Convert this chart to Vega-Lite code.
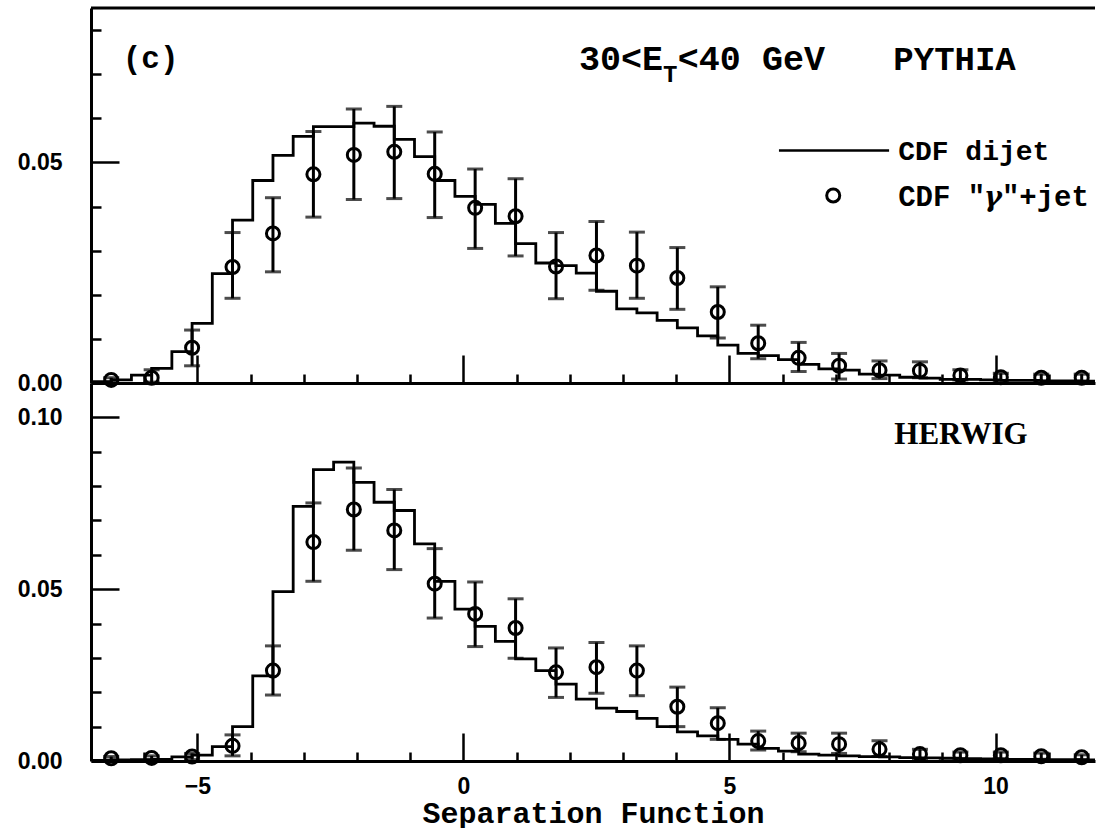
{
  "$schema": "https://vega.github.io/schema/vega-lite/v6.json",
  "padding": {"left": 17, "top": 6, "right": 0, "bottom": 0},
  "spacing": 0,
  "bounds": "flush",
  "background": "white",
  "datasets": {
    "note": [{}],
    "histPythia": [
      {"edge": -7.00, "v": 0.0003}, {"edge": -6.62, "v": 0.0007}, {"edge": -6.24, "v": 0.0018}, {"edge": -5.86, "v": 0.0033},
      {"edge": -5.48, "v": 0.0071}, {"edge": -5.10, "v": 0.0135}, {"edge": -4.72, "v": 0.0248}, {"edge": -4.34, "v": 0.0369},
      {"edge": -3.96, "v": 0.0459}, {"edge": -3.58, "v": 0.0516}, {"edge": -3.20, "v": 0.0559}, {"edge": -2.82, "v": 0.0581},
      {"edge": -2.44, "v": 0.0581}, {"edge": -2.06, "v": 0.0589}, {"edge": -1.68, "v": 0.0582}, {"edge": -1.30, "v": 0.0552},
      {"edge": -0.92, "v": 0.0513}, {"edge": -0.54, "v": 0.0459}, {"edge": -0.16, "v": 0.0423}, {"edge": 0.22, "v": 0.0405},
      {"edge": 0.60, "v": 0.0362}, {"edge": 0.98, "v": 0.0316}, {"edge": 1.36, "v": 0.0272}, {"edge": 1.74, "v": 0.0266},
      {"edge": 2.12, "v": 0.0249}, {"edge": 2.50, "v": 0.0208}, {"edge": 2.88, "v": 0.0168}, {"edge": 3.26, "v": 0.0159},
      {"edge": 3.64, "v": 0.0142}, {"edge": 4.02, "v": 0.0125}, {"edge": 4.40, "v": 0.0107}, {"edge": 4.78, "v": 0.0086},
      {"edge": 5.16, "v": 0.0067}, {"edge": 5.54, "v": 0.0062}, {"edge": 5.92, "v": 0.0053}, {"edge": 6.30, "v": 0.0042},
      {"edge": 6.68, "v": 0.0032}, {"edge": 7.06, "v": 0.0029}, {"edge": 7.44, "v": 0.0020}, {"edge": 7.82, "v": 0.0018},
      {"edge": 8.20, "v": 0.0013}, {"edge": 8.58, "v": 0.0011}, {"edge": 8.96, "v": 0.0008}, {"edge": 9.34, "v": 0.0008},
      {"edge": 9.72, "v": 0.0007}, {"edge": 10.10, "v": 0.0006}, {"edge": 10.48, "v": 0.0006}, {"edge": 10.86, "v": 0.0005},
      {"edge": 11.24, "v": 0.0005}, {"edge": 11.62, "v": 0.0004}, {"edge": 12.00, "v": 0.0004}
    ],
    "histHerwig": [
      {"edge": -7.00, "v": 0.0002}, {"edge": -6.62, "v": 0.0003}, {"edge": -6.24, "v": 0.0004}, {"edge": -5.86, "v": 0.0005},
      {"edge": -5.48, "v": 0.0012}, {"edge": -5.10, "v": 0.0017}, {"edge": -4.72, "v": 0.0042}, {"edge": -4.34, "v": 0.0100},
      {"edge": -3.96, "v": 0.0248}, {"edge": -3.58, "v": 0.0493}, {"edge": -3.20, "v": 0.0741}, {"edge": -2.82, "v": 0.0848},
      {"edge": -2.44, "v": 0.0870}, {"edge": -2.06, "v": 0.0811}, {"edge": -1.68, "v": 0.0753}, {"edge": -1.30, "v": 0.0729},
      {"edge": -0.92, "v": 0.0632}, {"edge": -0.54, "v": 0.0523}, {"edge": -0.16, "v": 0.0442}, {"edge": 0.22, "v": 0.0392},
      {"edge": 0.60, "v": 0.0348}, {"edge": 0.98, "v": 0.0297}, {"edge": 1.36, "v": 0.0263}, {"edge": 1.74, "v": 0.0224},
      {"edge": 2.12, "v": 0.0180}, {"edge": 2.50, "v": 0.0154}, {"edge": 2.88, "v": 0.0144}, {"edge": 3.26, "v": 0.0124},
      {"edge": 3.64, "v": 0.0100}, {"edge": 4.02, "v": 0.0085}, {"edge": 4.40, "v": 0.0073}, {"edge": 4.78, "v": 0.0063},
      {"edge": 5.16, "v": 0.0049}, {"edge": 5.54, "v": 0.0037}, {"edge": 5.92, "v": 0.0029}, {"edge": 6.30, "v": 0.0020},
      {"edge": 6.68, "v": 0.0017}, {"edge": 7.06, "v": 0.0015}, {"edge": 7.44, "v": 0.0013}, {"edge": 7.82, "v": 0.0012},
      {"edge": 8.20, "v": 0.0010}, {"edge": 8.58, "v": 0.0009}, {"edge": 8.96, "v": 0.0008}, {"edge": 9.34, "v": 0.0007},
      {"edge": 9.72, "v": 0.0006}, {"edge": 10.10, "v": 0.0005}, {"edge": 10.48, "v": 0.0005}, {"edge": 10.86, "v": 0.0004},
      {"edge": 11.24, "v": 0.0004}, {"edge": 11.62, "v": 0.0003}, {"edge": 12.00, "v": 0.0003}
    ],
    "gammaPythia": [
      {"sep": -6.62, "v": 0.0007, "lo": 0.0002, "hi": 0.0012},
      {"sep": -5.86, "v": 0.0012, "lo": 0.0002, "hi": 0.0030},
      {"sep": -5.10, "v": 0.0080, "lo": 0.0039, "hi": 0.0120},
      {"sep": -4.34, "v": 0.0263, "lo": 0.0192, "hi": 0.0341},
      {"sep": -3.58, "v": 0.0339, "lo": 0.0252, "hi": 0.0420},
      {"sep": -2.82, "v": 0.0473, "lo": 0.0376, "hi": 0.0570},
      {"sep": -2.06, "v": 0.0517, "lo": 0.0416, "hi": 0.0621},
      {"sep": -1.30, "v": 0.0524, "lo": 0.0418, "hi": 0.0627},
      {"sep": -0.54, "v": 0.0474, "lo": 0.0375, "hi": 0.0569},
      {"sep": 0.22, "v": 0.0397, "lo": 0.0305, "hi": 0.0485},
      {"sep": 0.98, "v": 0.0378, "lo": 0.0288, "hi": 0.0463},
      {"sep": 1.74, "v": 0.0264, "lo": 0.0191, "hi": 0.0341},
      {"sep": 2.50, "v": 0.0289, "lo": 0.0210, "hi": 0.0366},
      {"sep": 3.26, "v": 0.0266, "lo": 0.0192, "hi": 0.0342},
      {"sep": 4.02, "v": 0.0238, "lo": 0.0167, "hi": 0.0307},
      {"sep": 4.78, "v": 0.0161, "lo": 0.0102, "hi": 0.0218},
      {"sep": 5.54, "v": 0.0090, "lo": 0.0055, "hi": 0.0131},
      {"sep": 6.30, "v": 0.0057, "lo": 0.0026, "hi": 0.0092},
      {"sep": 7.06, "v": 0.0039, "lo": 0.0009, "hi": 0.0067},
      {"sep": 7.82, "v": 0.0029, "lo": 0.0010, "hi": 0.0050},
      {"sep": 8.58, "v": 0.0028, "lo": 0.0012, "hi": 0.0048},
      {"sep": 9.34, "v": 0.0017, "lo": 0.0007, "hi": 0.0030},
      {"sep": 10.10, "v": 0.0013, "lo": 0.0005, "hi": 0.0022},
      {"sep": 10.86, "v": 0.0012, "lo": 0.0004, "hi": 0.0020},
      {"sep": 11.62, "v": 0.0012, "lo": 0.0004, "hi": 0.0020}
    ],
    "gammaHerwig": [
      {"sep": -6.62, "v": 0.0008, "lo": 0.0003, "hi": 0.0013},
      {"sep": -5.86, "v": 0.0009, "lo": 0.0003, "hi": 0.0015},
      {"sep": -5.10, "v": 0.0013, "lo": 0.0004, "hi": 0.0022},
      {"sep": -4.34, "v": 0.0044, "lo": 0.0015, "hi": 0.0076},
      {"sep": -3.58, "v": 0.0263, "lo": 0.0192, "hi": 0.0335},
      {"sep": -2.82, "v": 0.0637, "lo": 0.0523, "hi": 0.0751},
      {"sep": -2.06, "v": 0.0732, "lo": 0.0613, "hi": 0.0853},
      {"sep": -1.30, "v": 0.0671, "lo": 0.0557, "hi": 0.0790},
      {"sep": -0.54, "v": 0.0516, "lo": 0.0416, "hi": 0.0618},
      {"sep": 0.22, "v": 0.0428, "lo": 0.0333, "hi": 0.0521},
      {"sep": 0.98, "v": 0.0387, "lo": 0.0299, "hi": 0.0472},
      {"sep": 1.74, "v": 0.0258, "lo": 0.0185, "hi": 0.0329},
      {"sep": 2.50, "v": 0.0273, "lo": 0.0197, "hi": 0.0345},
      {"sep": 3.26, "v": 0.0263, "lo": 0.0190, "hi": 0.0335},
      {"sep": 4.02, "v": 0.0158, "lo": 0.0100, "hi": 0.0215},
      {"sep": 4.78, "v": 0.0110, "lo": 0.0063, "hi": 0.0155},
      {"sep": 5.54, "v": 0.0058, "lo": 0.0032, "hi": 0.0087},
      {"sep": 6.30, "v": 0.0052, "lo": 0.0027, "hi": 0.0081},
      {"sep": 7.06, "v": 0.0049, "lo": 0.0022, "hi": 0.0081},
      {"sep": 7.82, "v": 0.0034, "lo": 0.0013, "hi": 0.0059},
      {"sep": 8.58, "v": 0.0020, "lo": 0.0006, "hi": 0.0034},
      {"sep": 9.34, "v": 0.0017, "lo": 0.0006, "hi": 0.0026},
      {"sep": 10.10, "v": 0.0017, "lo": 0.0007, "hi": 0.0026},
      {"sep": 10.86, "v": 0.0014, "lo": 0.0005, "hi": 0.0023},
      {"sep": 11.62, "v": 0.0011, "lo": 0.0004, "hi": 0.0018}
    ]
  },
  "vconcat": [
    {
      "width": 1004,
      "height": 375,
      "resolve": {"axis": {"x": "independent", "y": "independent"}},
      "layer": [
        {
          "data": {"name": "histPythia"},
          "mark": {"type": "line", "interpolate": "step-after", "color": "black", "strokeWidth": 2.8, "clip": true},
          "encoding": {
            "x": {"field": "edge", "type": "quantitative",
                  "scale": {"domain": [-7, 11.87], "nice": false, "zero": false},
                  "axis": {"orient": "bottom", "values": [-5, 0, 5, 10], "labels": false, "tickSize": -28, "tickWidth": 2.5, "domainWidth": 3, "title": null}},
            "y": {"field": "v", "type": "quantitative",
                  "scale": {"domain": [0, 0.085], "nice": false},
                  "axis": {"orient": "left", "values": [0, 0.05], "format": ".2f", "tickSize": -28, "tickWidth": 2.5, "domainWidth": 3, "labelPadding": 57, "title": null}}
          }
        },
        {
          "data": {"name": "gammaPythia"},
          "mark": {"type": "rule", "color": "black", "strokeWidth": 3},
          "encoding": {
            "x": {"field": "sep", "type": "quantitative",
                  "axis": {"orient": "bottom", "values": [-6, -4, -3, -2, -1, 1, 2, 3, 4, 6, 7, 8, 9, 11], "labels": false, "domain": false, "tickSize": -9, "tickWidth": 2.5, "title": null}},
            "y": {"field": "lo", "type": "quantitative",
                  "axis": {"orient": "left", "values": [0.01, 0.02, 0.03, 0.04, 0.06, 0.07, 0.08], "labels": false, "domain": false, "tickSize": -10, "tickWidth": 2.5, "title": null}},
            "y2": {"field": "hi"}
          }
        },
        {
          "data": {"name": "gammaPythia"},
          "mark": {"type": "tick", "orient": "horizontal", "color": "black", "size": 16, "thickness": 3},
          "encoding": {
            "x": {"field": "sep", "type": "quantitative", "axis": null},
            "y": {"field": "lo", "type": "quantitative", "axis": null}
          }
        },
        {
          "data": {"name": "gammaPythia"},
          "mark": {"type": "tick", "orient": "horizontal", "color": "black", "size": 16, "thickness": 3},
          "encoding": {
            "x": {"field": "sep", "type": "quantitative", "axis": null},
            "y": {"field": "hi", "type": "quantitative", "axis": null}
          }
        },
        {
          "data": {"name": "gammaPythia"},
          "mark": {"type": "point", "shape": "circle", "filled": false, "color": "black", "opacity": 1, "size": 170, "strokeWidth": 3},
          "encoding": {
            "x": {"field": "sep", "type": "quantitative", "axis": null},
            "y": {"field": "v", "type": "quantitative", "axis": null}
          }
        },
        {
          "data": {"name": "note"},
          "mark": {"type": "rule", "color": "black", "strokeWidth": 3},
          "encoding": {"y": {"datum": 0.085, "type": "quantitative", "axis": null}}
        },
        {
          "data": {"name": "note"},
          "mark": {"type": "text", "text": "(c)", "font": "Liberation Mono", "fontWeight": "bold", "fontSize": 31, "align": "center", "baseline": "middle", "color": "black"},
          "encoding": {"x": {"datum": -5.88, "type": "quantitative", "axis": null}, "y": {"datum": 0.0735, "type": "quantitative", "axis": null}}
        },
        {
          "data": {"name": "note"},
          "mark": {"type": "text", "text": "30<E", "font": "Liberation Mono", "fontWeight": "bold", "fontSize": 35, "align": "right", "baseline": "alphabetic", "color": "black"},
          "encoding": {"x": {"datum": 3.75, "type": "quantitative", "axis": null}, "y": {"datum": 0.071, "type": "quantitative", "axis": null}}
        },
        {
          "data": {"name": "note"},
          "mark": {"type": "text", "text": "T", "font": "Liberation Mono", "fontWeight": "bold", "fontSize": 24, "align": "left", "baseline": "alphabetic", "color": "black"},
          "encoding": {"x": {"datum": 3.75, "type": "quantitative", "axis": null}, "y": {"datum": 0.0683, "type": "quantitative", "axis": null}}
        },
        {
          "data": {"name": "note"},
          "mark": {"type": "text", "text": "<40 GeV", "font": "Liberation Mono", "fontWeight": "bold", "fontSize": 35, "align": "left", "baseline": "alphabetic", "color": "black"},
          "encoding": {"x": {"datum": 4.03, "type": "quantitative", "axis": null}, "y": {"datum": 0.071, "type": "quantitative", "axis": null}}
        },
        {
          "data": {"name": "note"},
          "mark": {"type": "text", "text": "PYTHIA", "font": "Liberation Mono", "fontWeight": "bold", "fontSize": 34, "align": "center", "baseline": "alphabetic", "color": "black"},
          "encoding": {"x": {"datum": 9.23, "type": "quantitative", "axis": null}, "y": {"datum": 0.071, "type": "quantitative", "axis": null}}
        },
        {
          "data": {"name": "note"},
          "mark": {"type": "rule", "color": "black", "strokeWidth": 2.5},
          "encoding": {
            "x": {"datum": 5.93, "type": "quantitative", "axis": null},
            "x2": {"datum": 8.0},
            "y": {"datum": 0.0527, "type": "quantitative", "axis": null}
          }
        },
        {
          "data": {"name": "note"},
          "mark": {"type": "text", "text": "CDF dijet", "font": "Liberation Mono", "fontWeight": "bold", "fontSize": 28, "align": "left", "baseline": "middle", "color": "black"},
          "encoding": {"x": {"datum": 8.17, "type": "quantitative", "axis": null}, "y": {"datum": 0.0523, "type": "quantitative", "axis": null}}
        },
        {
          "data": {"name": "note"},
          "mark": {"type": "point", "shape": "circle", "filled": false, "color": "black", "opacity": 1, "size": 170, "strokeWidth": 3},
          "encoding": {"x": {"datum": 6.95, "type": "quantitative", "axis": null}, "y": {"datum": 0.0425, "type": "quantitative", "axis": null}}
        },
        {
          "data": {"name": "note"},
          "mark": {"type": "text", "text": "CDF \"", "font": "Liberation Mono", "fontWeight": "bold", "fontSize": 29, "align": "left", "baseline": "middle", "color": "black"},
          "encoding": {"x": {"datum": 8.17, "type": "quantitative", "axis": null}, "y": {"datum": 0.0421, "type": "quantitative", "axis": null}}
        },
        {
          "data": {"name": "note"},
          "mark": {"type": "text", "text": "γ", "font": "DejaVu Serif", "fontStyle": "italic", "fontWeight": "bold", "fontSize": 27, "align": "center", "baseline": "middle", "color": "black"},
          "encoding": {"x": {"datum": 9.95, "type": "quantitative", "axis": null}, "y": {"datum": 0.0419, "type": "quantitative", "axis": null}}
        },
        {
          "data": {"name": "note"},
          "mark": {"type": "text", "text": "\"+jet", "font": "Liberation Mono", "fontWeight": "bold", "fontSize": 29, "align": "left", "baseline": "middle", "color": "black"},
          "encoding": {"x": {"datum": 10.12, "type": "quantitative", "axis": null}, "y": {"datum": 0.0421, "type": "quantitative", "axis": null}}
        }
      ]
    },
    {
      "width": 1004,
      "height": 378,
      "resolve": {"axis": {"x": "independent", "y": "independent"}},
      "layer": [
        {
          "data": {"name": "histHerwig"},
          "mark": {"type": "line", "interpolate": "step-after", "color": "black", "strokeWidth": 2.8, "clip": true},
          "encoding": {
            "x": {"field": "edge", "type": "quantitative",
                  "scale": {"domain": [-7, 11.87], "nice": false, "zero": false},
                  "axis": {"orient": "bottom", "values": [-5, 0, 5, 10], "format": "d", "tickSize": -28, "tickWidth": 2.5, "domainWidth": 3, "labelPadding": 42,
                           "title": "Separation Function", "titleFont": "Liberation Mono", "titleFontWeight": "bold", "titleFontSize": 30, "titlePadding": 0}},
            "y": {"field": "v", "type": "quantitative",
                  "scale": {"domain": [0, 0.11], "nice": false},
                  "axis": {"orient": "left", "values": [0, 0.05, 0.1], "format": ".2f", "tickSize": -28, "tickWidth": 2.5, "domainWidth": 3, "labelPadding": 57, "title": null}}
          }
        },
        {
          "data": {"name": "gammaHerwig"},
          "mark": {"type": "rule", "color": "black", "strokeWidth": 3},
          "encoding": {
            "x": {"field": "sep", "type": "quantitative",
                  "axis": {"orient": "bottom", "values": [-6, -4, -3, -2, -1, 1, 2, 3, 4, 6, 7, 8, 9, 11], "labels": false, "domain": false, "tickSize": -9, "tickWidth": 2.5, "title": null}},
            "y": {"field": "lo", "type": "quantitative",
                  "axis": {"orient": "left", "values": [0.01, 0.02, 0.03, 0.04, 0.06, 0.07, 0.08, 0.09], "labels": false, "domain": false, "tickSize": -10, "tickWidth": 2.5, "title": null}},
            "y2": {"field": "hi"}
          }
        },
        {
          "data": {"name": "gammaHerwig"},
          "mark": {"type": "tick", "orient": "horizontal", "color": "black", "size": 16, "thickness": 3},
          "encoding": {
            "x": {"field": "sep", "type": "quantitative", "axis": null},
            "y": {"field": "lo", "type": "quantitative", "axis": null}
          }
        },
        {
          "data": {"name": "gammaHerwig"},
          "mark": {"type": "tick", "orient": "horizontal", "color": "black", "size": 16, "thickness": 3},
          "encoding": {
            "x": {"field": "sep", "type": "quantitative", "axis": null},
            "y": {"field": "hi", "type": "quantitative", "axis": null}
          }
        },
        {
          "data": {"name": "gammaHerwig"},
          "mark": {"type": "point", "shape": "circle", "filled": false, "color": "black", "opacity": 1, "size": 170, "strokeWidth": 3},
          "encoding": {
            "x": {"field": "sep", "type": "quantitative", "axis": null},
            "y": {"field": "v", "type": "quantitative", "axis": null}
          }
        },
        {
          "data": {"name": "note"},
          "mark": {"type": "text", "text": "HERWIG", "font": "Liberation Serif", "fontWeight": "bold", "fontSize": 31, "align": "center", "baseline": "middle", "color": "black"},
          "encoding": {"x": {"datum": 9.35, "type": "quantitative", "axis": null}, "y": {"datum": 0.095, "type": "quantitative", "axis": null}}
        }
      ]
    }
  ],
  "config": {
    "view": {"stroke": null},
    "axis": {
      "grid": false,
      "domainColor": "black",
      "tickColor": "black",
      "labelColor": "black",
      "titleColor": "black",
      "labelFont": "Liberation Sans",
      "labelFontWeight": "bold",
      "labelFontSize": 23
    }
  }
}
